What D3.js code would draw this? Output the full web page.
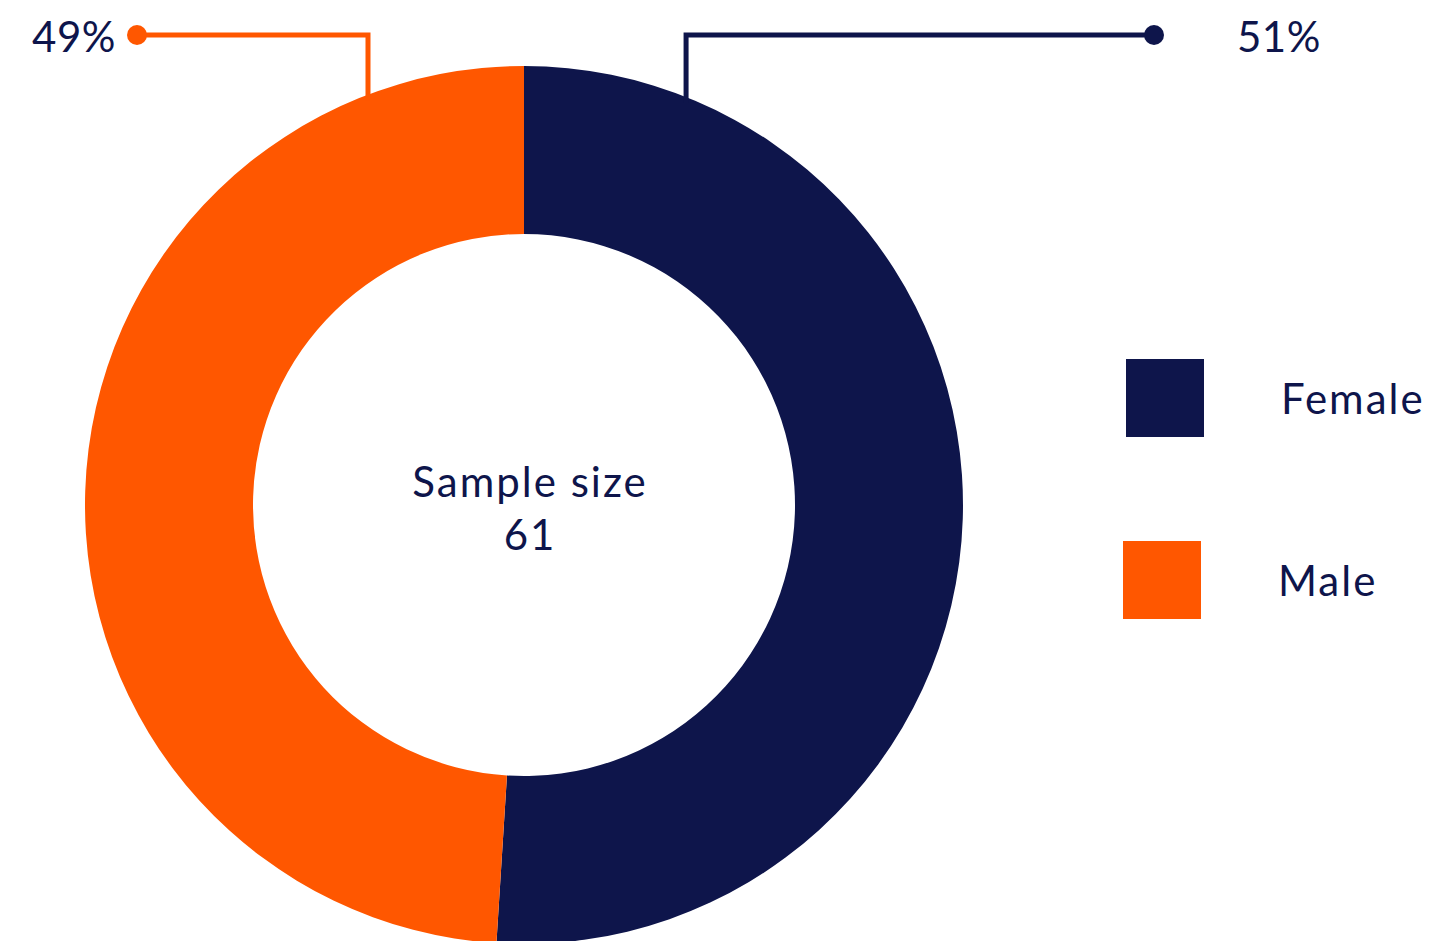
<!DOCTYPE html>
<html>
<head>
<meta charset="utf-8">
<script src="https://cdn.jsdelivr.net/npm/d3@7"></script>
<style>
  html, body { margin: 0; padding: 0; background: #fff; }
  text { font-family: Lato, "Open Sans", sans-serif; fill: #0e154b; font-size: 42px; letter-spacing: 2px; }
  text.pct { letter-spacing: 0.5px; }
</style>
</head>
<body>
<div id="chart"></div>
<script>
// data
var categories = ['Female', 'Male'];
var shares = [51, 49];
var pctLabels = ['51%', '49%'];
var centerLines = ['Sample size', '61'];
var colors = ['#0e154b', '#ff5700'];

var width = 1435, height = 941;
var cx = 524, cy = 505;
var outerR = 439, innerR = 271;

var svg = d3.select('#chart').append('svg')
    .attr('width', width)
    .attr('height', height);

var color = d3.scaleOrdinal().domain(categories).range(colors);

var pie = d3.pie().sort(null).value(function(d) { return d.value; });
var arcs = pie(categories.map(function(c, i) { return {name: c, value: shares[i]}; }));

var arc = d3.arc().innerRadius(innerR).outerRadius(outerR);

var donut = svg.append('g')
    .attr('transform', `translate(${cx},${cy})`);

donut.selectAll('path')
    .data(arcs)
    .enter().append('path')
    .attr('d', arc)
    .attr('fill', function(d) { return color(d.data.name); });

// center text
donut.append('text')
    .attr('text-anchor', 'middle')
    .attr('x', 6)
    .attr('y', -8)
    .text(centerLines[0]);
donut.append('text')
    .attr('text-anchor', 'middle')
    .attr('x', 6)
    .attr('y', 45)
    .text(centerLines[1]);

// leader lines: start on the outer edge near the top, elbow to y=35
var elbowY = 35;
var offset = 0.118; // fraction of slice span from the top seam
var dotX = [1154, 137];
arcs.forEach(function(d, i) {
    var span = d.endAngle - d.startAngle;
    var a = i === 0 ? d.startAngle + offset * span : d.endAngle - offset * span;
    var px = cx + outerR * Math.sin(a);
    var py = cy - outerR * Math.cos(a) + 6;
    var c = color(d.data.name);
    svg.append('path')
        .attr('d', d3.line()([[px, py], [px, elbowY], [dotX[i], elbowY]]))
        .attr('fill', 'none')
        .attr('stroke', c)
        .attr('stroke-width', 5);
    svg.append('circle')
        .attr('cx', dotX[i])
        .attr('cy', elbowY)
        .attr('r', 10)
        .attr('fill', c);
    svg.append('text')
        .attr('class', 'pct')
        .attr('x', i === 0 ? dotX[i] + 83 : dotX[i] - 21)
        .attr('y', 52)
        .attr('text-anchor', i === 0 ? 'start' : 'end')
        .text(pctLabels[i]);
});

// legend
var legendY = d3.scalePoint().domain(categories).range([359, 541]);
var legend = svg.selectAll('.legend')
    .data(categories)
    .enter().append('g')
    .attr('class', 'legend')
    .attr('transform', function(d, i) { return `translate(${1126 - 3 * i},${legendY(d)})`; });

legend.append('rect')
    .attr('width', 78)
    .attr('height', 78)
    .attr('fill', function(d) { return color(d); });

legend.append('text')
    .attr('x', 155)
    .attr('y', 55)
    .text(function(d) { return d; });
</script>
</body>
</html>
